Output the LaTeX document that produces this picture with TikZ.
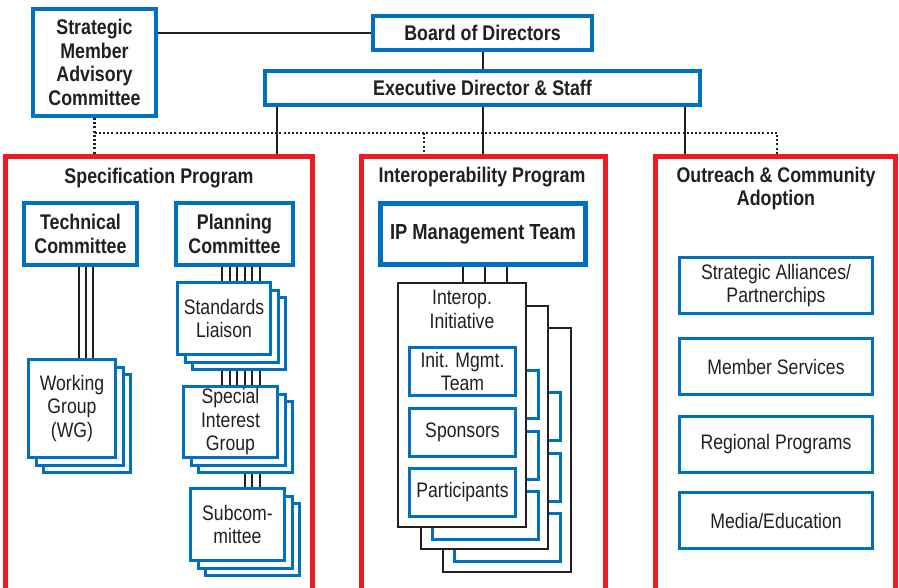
\documentclass[tikz,border=0pt]{standalone}
\usepackage{fontspec}
\setmainfont[FakeStretch=0.84]{Liberation Sans}
\usetikzlibrary{positioning}
\definecolor{ogcblue}{RGB}{0,112,192}
\definecolor{ogcred}{RGB}{237,28,36}
\definecolor{ink}{RGB}{35,31,32}

\begin{document}
\begin{tikzpicture}[x=0.5pt,y=-0.5pt]
   \tikzstyle{every node}=[text=ink, inner sep=0pt, align=center]
   \tikzstyle{head}=[draw=ogcblue, line width=2pt, fill=white, font=\bfseries\fontsize{10.6}{11.75}\selectfont]
   \tikzstyle{unit}=[draw=ogcblue, line width=1.5pt, fill=white, font=\fontsize{10.5}{11.75}\selectfont]
   \tikzstyle{program}=[draw=ogcred, line width=2.5pt]
   \tikzstyle{title}=[font=\bfseries\fontsize{10.6}{11.5}\selectfont]
   \tikzstyle{label}=[font=\fontsize{10.5}{12}\selectfont]
   \tikzstyle{page}=[draw=ink, line width=1.2pt, fill=white]
   \tikzstyle{link}=[draw=ink, line width=1pt]
   \tikzstyle{dots}=[draw=ink, line width=1.1pt, dash pattern=on 1pt off 1.1pt]

\useasboundingbox (0,0) rectangle (899,588);

\node[head, minimum width=61.5pt, minimum height=53.5pt] (smac) at (94.5,62.5) {Strategic\\Member\\Advisory\\Committee};
\node[head, minimum width=109.5pt, minimum height=17pt] (board) at (482.5,33) {Board of Directors};
\node[head, minimum width=217.5pt, minimum height=17pt] (exec) at (482.5,88) {Executive Director \& Staff};

\node[program, minimum width=153.5pt, minimum height=216.75pt] (spec) at (159,373.25) {};
\node[program, minimum width=122pt, minimum height=216.75pt] (interop) at (483.5,373.25) {};
\node[program, minimum width=120pt, minimum height=216.75pt] (outreach) at (775.5,373.25) {};

\node[title] (spectitle) at (159,178) {Specification Program};
\node[title] (interoptitle) at (482,177) {Interoperability Program};
\node[title] (outreachtitle) at (776,188.5) {Outreach \& Community\\Adoption};

\draw[link] (smac.east |- board.west) -- (board.west);
\draw[link] (board.south) -- (exec.north);
\draw[link] ([xshift=7pt]exec.south west) -- ([xshift=7pt]exec.south west |- spec.north);
\draw[link] (exec.south) -- (exec.south |- interop.north);
\draw[link] ([xshift=-8.5pt]exec.south east) -- ([xshift=-8.5pt]exec.south east |- outreach.north);

\coordinate (dotmid) at (424,133);
\coordinate (dotend) at (777,133);
\draw[dots] (smac.south) -- (smac.south |- spec.north);
\draw[dots] (smac.south |- dotend) -- (dotend) -- (dotend |- outreach.north);
\draw[dots] (dotmid) -- (dotmid |- interop.north);

\node[head, minimum width=56.5pt, minimum height=31pt] (tech) at (80.5,234) {Technical\\Committee};
\node[head, minimum width=58.5pt, minimum height=31pt] (plan) at (234.5,234) {Planning\\Committee};

\foreach \k in {2,1} {
   \node[unit, minimum width=43.5pt, minimum height=49pt] (wg-\k) at ({72+7.5*\k},{408.5+7.5*\k}) {};
   \node[unit, minimum width=46.5pt, minimum height=36pt] (sl-\k) at ({224+7.5*\k},{318.5+7.5*\k}) {};
   \node[unit, minimum width=47pt, minimum height=35.5pt] (sig-\k) at ({230.5+7.5*\k},{422+7.5*\k}) {};
   \node[unit, minimum width=47pt, minimum height=36pt] (sub-\k) at ({237.5+7.5*\k},{524.5+7.5*\k}) {};
}
\node[unit, minimum width=43.5pt, minimum height=49pt] (wg) at (72,408.5) {Working\\Group\\(WG)};
\node[unit, minimum width=46.5pt, minimum height=36pt] (sl) at (224,318.5) {Standards\\Liaison};
\node[unit, minimum width=47pt, minimum height=35.5pt] (sig) at (230.5,422) {Special\\Interest\\Group};
\node[unit, minimum width=47pt, minimum height=36pt] (sub) at (237.5,524.5) {Subcom-\\mittee};

\foreach \x in {79,86,93}
   \draw[link] (tech.south -| \x,0) -- (wg.north -| \x,0);
\foreach \x in {222,229.5,237,244.5,252,259.5} {
   \draw[link] (plan.south -| \x,0) -- (sl.north -| \x,0);
   \draw[link] (sl-2.south -| \x,0) -- (sig.north -| \x,0);
}
\foreach \x in {245,252,259.5}
   \draw[link] (sig-2.south -| \x,0) -- (sub.north -| \x,0);

\node[head, line width=2.5pt, minimum width=102.5pt, minimum height=30.5pt, font=\bfseries\fontsize{10.9}{12}\selectfont] (ipmt) at (483,234) {IP Management Team};

\foreach \k in {2,1} {
   \node[page, minimum width=63.75pt, minimum height=121.75pt] (init-\k) at ({462+22.5*\k},{405+22.5*\k}) {};
   \node[unit, minimum width=53pt, minimum height=24pt] (mgmt-\k) at ({462.5+22.5*\k},{371.5+22.5*\k}) {};
   \node[unit, minimum width=53pt, minimum height=24pt] (spons-\k) at ({462.5+22.5*\k},{432.5+22.5*\k}) {};
   \node[unit, minimum width=53pt, minimum height=24pt] (part-\k) at ({462.5+22.5*\k},{492.5+22.5*\k}) {};
}
\node[page, minimum width=63.75pt, minimum height=121.75pt] (init) at (462,405) {};
\node[label] (inittitle) at (462,309) {Interop.\\Initiative};
\node[unit, minimum width=53pt, minimum height=24pt] (mgmt) at (462.5,371.5) {Init. Mgmt.\\Team};
\node[unit, minimum width=53pt, minimum height=24pt] (spons) at (462.5,432.5) {Sponsors};
\node[unit, minimum width=53pt, minimum height=24pt] (part) at (462.5,492.5) {Participants};

\foreach \x in {463,485,507}
   \draw[link] (ipmt.south -| \x,0) -- (init.north -| \x,0);

\node[unit, minimum width=96.5pt, minimum height=28pt] (alliances) at (776,285.5) {Strategic Alliances/\\Partnerchips};
\node[unit, minimum width=96.5pt, minimum height=28pt] (members) at (776,366.5) {Member Services};
\node[unit, minimum width=96.5pt, minimum height=28pt] (regional) at (776,444) {Regional Programs};
\node[unit, minimum width=96.5pt, minimum height=28pt] (media) at (776,520.5) {Media/Education};

\end{tikzpicture}
\end{document}
